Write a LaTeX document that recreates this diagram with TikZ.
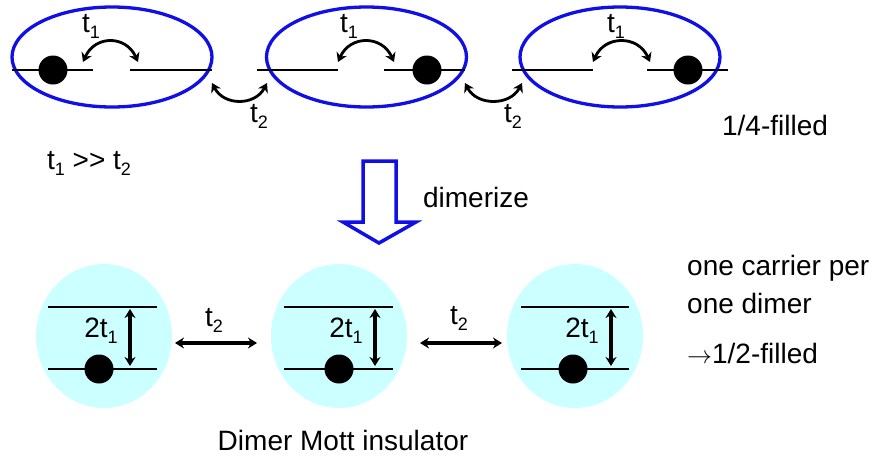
\documentclass[tikz,border=0pt]{standalone}
\usepackage{fontspec}
\setmainfont{Liberation Sans}
\usetikzlibrary{arrows.meta}
\definecolor{ringblue}{RGB}{15,15,230}
\definecolor{dimercyan}{RGB}{204,255,255}
\newcommand\subsc[1]{\raisebox{-0.4ex}{\fontsize{18}{18}\selectfont #1}}
\tikzset{
  txt/.style={font=\fontsize{28}{30}\selectfont, inner sep=0pt},
  ring/.style={draw=ringblue, line width=3.3pt},
  level/.style={line width=2.6pt},
  electron/.style={fill=black},
  hop/.style={line width=2.8pt, {Stealth[length=9pt,width=11pt]}-{Stealth[length=9pt,width=11pt]}},
  gap/.style={line width=3.2pt, {Stealth[length=9pt,width=11pt]}-{Stealth[length=9pt,width=11pt]}},
  bg/.style={fill=dimercyan, draw=none}
}
\begin{document}
\begin{tikzpicture}[x=1pt,y=-1pt]
\useasboundingbox (0,0) rectangle (877,459);
% ---------- top chain ----------
\foreach \i/\cx in {1/112,2/366.5,3/620} {
  \draw[ring] (\cx pt,-57pt) ellipse [x radius=100pt, y radius=50pt];
}
% level segments
\draw[level] (12,70) -- (93,70);
\draw[level] (130,70) -- (212,70);
\draw[level] (257,70) -- (338,70);
\draw[level] (384,70) -- (465,70);
\draw[level] (512,70) -- (593,70);
\draw[level] (647,70) -- (728,70);
% electrons
\fill[electron] (53,70) circle [radius=14.5pt];
\fill[electron] (427,70) circle [radius=14.5pt];
\fill[electron] (688,70) circle [radius=14.5pt];
% t1 hops
\coordinate (a1) at (83,62);  \coordinate (b1) at (138,62);
\coordinate (a2) at (338,62); \coordinate (b2) at (394,62);
\coordinate (a3) at (593,62); \coordinate (b3) at (650,62);
\draw[hop] (a1) .. controls (95,35) and (126,35) .. (b1);
\draw[hop] (a2) .. controls (350,35) and (382,35) .. (b2);
\draw[hop] (a3) .. controls (605,35) and (638,35) .. (b3);
\node[txt] (t1a) at (91,26) {t\subsc{1}};
\node[txt] (t1b) at (349,26) {t\subsc{1}};
\node[txt] (t1c) at (616,26) {t\subsc{1}};
% t2 hops
\coordinate (c1) at (212,83); \coordinate (d1) at (267,83);
\coordinate (c2) at (465,83); \coordinate (d2) at (522,83);
\draw[hop] (c1) .. controls (224,106) and (255,106) .. (d1);
\draw[hop] (c2) .. controls (477,106) and (510,106) .. (d2);
\node[txt] (t2a) at (259,116) {t\subsc{2}};
\node[txt] (t2b) at (513,116) {t\subsc{2}};
\node[txt] (quarter) at (775,125) {1/4-filled};
\node[txt] (ineq) at (89,163) {t\subsc{1} >{}> t\subsc{2}};
% ---------- dimerize arrow ----------
\draw[draw=ringblue, line width=3.5pt, line join=miter]
  (363,161) -- (396,161) -- (396,222) -- (416,222) -- (379,243) -- (343,222) -- (363,222) -- cycle;
\node[txt] (dimerize) at (476,197) {dimerize};
% ---------- bottom dimers ----------
\foreach \cx in {104,339,575} {
  \fill[bg] (\cx pt,-336pt) ellipse [x radius=68pt, y radius=72pt];
}
\draw[level] (48,307) -- (157,307);
\draw[level] (48,369) -- (157,369);
\draw[level] (284,307) -- (393,307);
\draw[level] (284,369) -- (393,369);
\draw[level] (521,307) -- (629,307);
\draw[level] (521,369) -- (629,369);
\fill[electron] (99,369) circle [radius=14.5pt];
\fill[electron] (339,369) circle [radius=14.5pt];
\fill[electron] (573,369) circle [radius=14.5pt];
\coordinate (u1) at (130,309); \coordinate (l1) at (130,366);
\coordinate (u2) at (375,309); \coordinate (l2) at (375,366);
\coordinate (u3) at (611,309); \coordinate (l3) at (611,366);
\draw[gap] (u1) -- (l1);
\draw[gap] (u2) -- (l2);
\draw[gap] (u3) -- (l3);
\node[txt] (g1) at (101,331) {2t\subsc{1}};
\node[txt] (g2) at (346,331) {2t\subsc{1}};
\node[txt] (g3) at (582,331) {2t\subsc{1}};
\coordinate (h1l) at (175,343); \coordinate (h1r) at (257,343);
\coordinate (h2l) at (420,343); \coordinate (h2r) at (502,343);
\draw[gap] (h1l) -- (h1r);
\draw[gap] (h2l) -- (h2r);
\node[txt] (t2c) at (214,320) {t\subsc{2}};
\node[txt] (t2d) at (459,318) {t\subsc{2}};
\node[txt, anchor=west] (carrier) at (687,268) {one carrier per};
\node[txt, anchor=west] (dimer) at (687,303) {one dimer};
\node[txt, anchor=west] (half) at (687,353) {$\rightarrow$1/2-filled};
\node[txt] (mott) at (343,440) {Dimer Mott insulator};
\end{tikzpicture}
\end{document}
